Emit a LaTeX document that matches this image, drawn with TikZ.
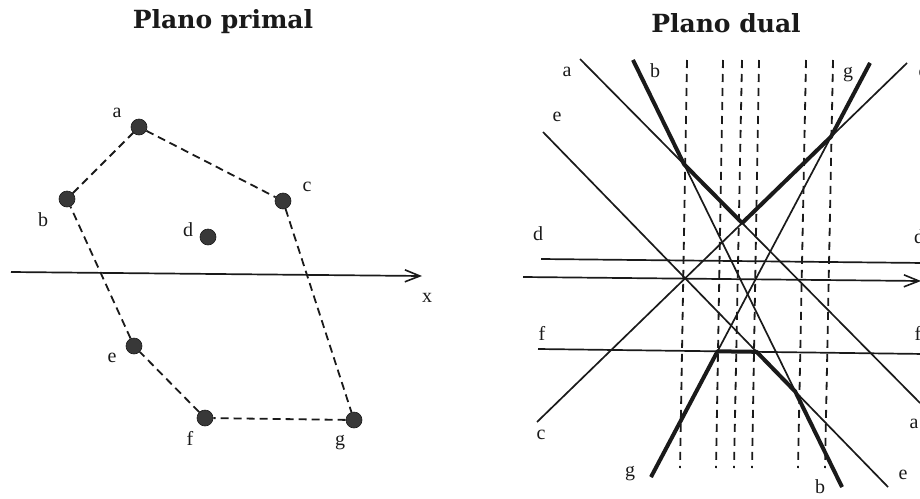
\documentclass[tikz,border=0pt]{standalone}
\usepackage{fontspec}
\setmainfont{Liberation Serif}
\newfontfamily\dualtitlefont{DejaVu Serif}
\usetikzlibrary{arrows.meta,positioning}
\definecolor{dualInk}{HTML}{1A1A1A}
\definecolor{dualDot}{HTML}{383838}
\tikzset{
  every picture/.style={font=\fontsize{20}{22}\selectfont, text=dualInk},
  dual title/.style={font=\dualtitlefont\bfseries\fontsize{25}{29}\selectfont, anchor=base},
  dual point/.style={circle, fill=dualDot, draw=dualInk, line width=0.6pt,
    minimum size=16pt, inner sep=0pt},
  dual label/.style={inner sep=0pt},
  dual hull/.style={draw=dualInk, line width=1.8pt, dash pattern=on 8pt off 5pt},
  dual line/.style={draw=dualInk, line width=1.7pt},
  dual env/.style={draw=dualInk, line width=4pt, line join=round},
  dual cut/.style={draw=dualInk, line width=1.8pt, dash pattern=on 8pt off 6pt},
  dual axis/.style={draw=dualInk, line width=1.7pt,
    -{Straight Barb[length=15pt,width=12pt,line width=1.6pt]}}
}

\begin{document}
\begin{tikzpicture}[x=1pt,y=-1pt]
  \useasboundingbox (0,0) rectangle (920,498);
  \node[dual title] (primal) at (223,28) {Plano primal};
  \node[dual title] (dual) at (726,32) {Plano dual};

  \node[dual point] (a) at (139,127) {};
  \node[dual point] (b) at (67,199) {};
  \node[dual point] (c) at (283,201) {};
  \node[dual point] (d) at (208,237) {};
  \node[dual point] (e) at (134,346) {};
  \node[dual point] (f) at (205,418) {};
  \node[dual point] (g) at (354,420) {};
  \node[dual label] (a-lbl) at (117,113) {a};
  \node[dual label] (b-lbl) at (43,220) {b};
  \node[dual label] (c-lbl) at (307,187) {c};
  \node[dual label] (d-lbl) at (188,230) {d};
  \node[dual label] (e-lbl) at (112,358) {e};
  \node[dual label] (f-lbl) at (190,438) {f};
  \node[dual label] (g-lbl) at (340,443) {g};
  \draw[dual hull] (a) -- (c) -- (g) -- (f) -- (e) -- (b) -- (a);
  \coordinate (px-s) at (11,272);
  \coordinate (px-e) at (422,276);
  \draw[dual axis] (px-s) -- (px-e);
  \node[dual label] (px-lbl) at (427,298) {x};

  \foreach \xt/\xb in {687/680,723/716,742/734,759/752,806/798,833/825}
    \draw[dual cut] (\xt,60) -- (\xb,468);

  \coordinate (a-s) at (580,59);  \coordinate (a-e) at (920,403);
  \coordinate (b-s) at (633,60);  \coordinate (b-e) at (842,487);
  \coordinate (c-s) at (537,422); \coordinate (c-e) at (907,63);
  \coordinate (d-s) at (541,259); \coordinate (d-e) at (925,263);
  \coordinate (e-s) at (543,132); \coordinate (e-e) at (888,487);
  \coordinate (f-s) at (538,349); \coordinate (f-e) at (925,354);
  \coordinate (g-s) at (651,477); \coordinate (g-e) at (870,63);
  \coordinate (dx-s) at (523,277); \coordinate (dx-e) at (921,281);
  \foreach \l in {a,b,c,d,e,f,g}
    \draw[dual line] (\l-s) -- (\l-e);
  \draw[dual axis] (dx-s) -- (dx-e);

  \coordinate (ab) at (intersection of a-s--a-e and b-s--b-e);
  \coordinate (ac) at (intersection of a-s--a-e and c-s--c-e);
  \coordinate (cg) at (intersection of c-s--c-e and g-s--g-e);
  \coordinate (fg) at (intersection of f-s--f-e and g-s--g-e);
  \coordinate (ef) at (intersection of e-s--e-e and f-s--f-e);
  \coordinate (be) at (intersection of b-s--b-e and e-s--e-e);
  \draw[dual env] (b-s) -- (ab) -- (ac) -- (cg) -- (g-e);
  \draw[dual env] (g-s) -- (fg) -- (ef) -- (be) -- (b-e);

  \node[dual label] (a-top) at (567,72) {a};
  \node[dual label] (a-bot) at (914,424) {a};
  \node[dual label] (b-top) at (655,71) {b};
  \node[dual label] (b-bot) at (820,487) {b};
  \node[dual label] (c-bot) at (541,435) {c};
  \node[dual label] (c-top) at (923,73) {c};
  \node[dual label] (d-lft) at (538,234) {d};
  \node[dual label] (d-rgt) at (919,237) {d};
  \node[dual label] (e-top) at (557,117) {e};
  \node[dual label] (e-bot) at (903,475) {e};
  \node[dual label] (f-lft) at (542,333) {f};
  \node[dual label] (f-rgt) at (918,333) {f};
  \node[dual label] (g-top) at (848,75) {g};
  \node[dual label] (g-bot) at (630,474) {g};
  \node[dual label] (dx-lbl) at (926,302) {x};
\end{tikzpicture}
\end{document}
